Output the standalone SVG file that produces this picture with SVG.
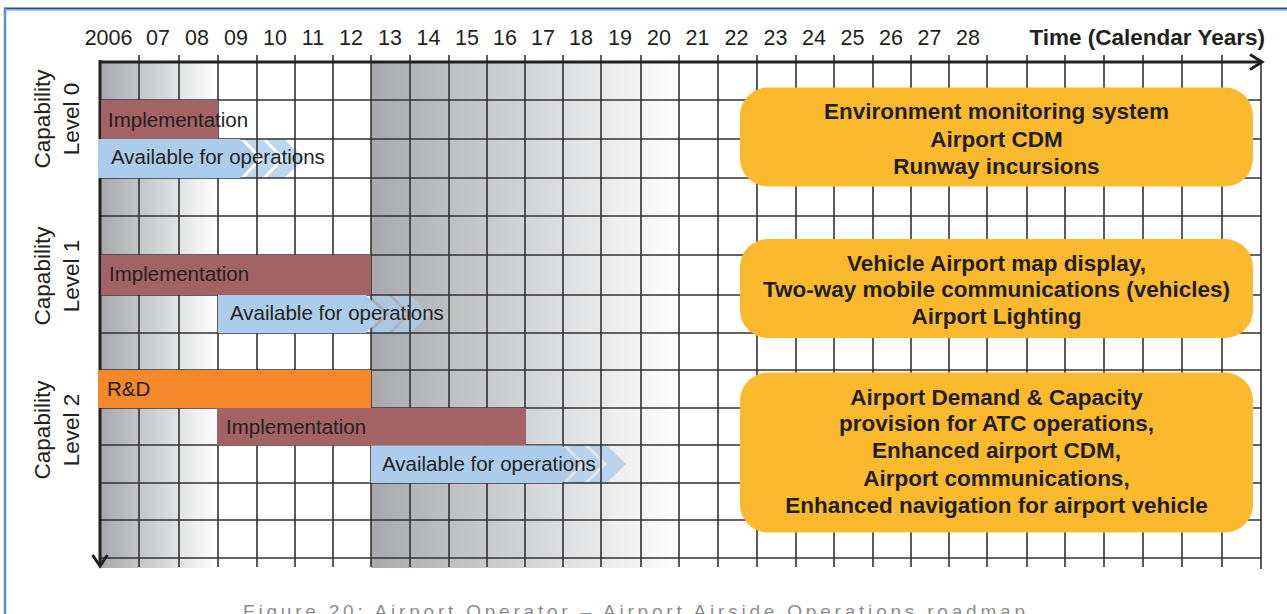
<svg xmlns="http://www.w3.org/2000/svg" width="1287" height="614" viewBox="0 0 1287 614">
<defs>
<linearGradient id="g1" x1="100" y1="0" x2="218" y2="0" gradientUnits="userSpaceOnUse">
<stop offset="0" stop-color="#a6a8ab"/><stop offset="1" stop-color="#ffffff"/>
</linearGradient>
<linearGradient id="g2" x1="371" y1="0" x2="680" y2="0" gradientUnits="userSpaceOnUse">
<stop offset="0" stop-color="#a7a9ac"/><stop offset="1" stop-color="#ffffff"/>
</linearGradient>
<style>
.yr{font-family:"Liberation Sans",Arial,sans-serif;font-size:21.5px;fill:#231f20;text-anchor:middle}
.lab{font-family:"Liberation Sans",Arial,sans-serif;font-size:20.5px;fill:#231f20}
.cap{font-family:"Liberation Sans",Arial,sans-serif;font-size:22.5px;fill:#231f20;text-anchor:middle}
.bx{font-family:"Liberation Sans",Arial,sans-serif;font-size:22.5px;font-weight:bold;fill:#231f20;text-anchor:middle}
.grid line{stroke:#333132;stroke-width:1.6}
.axis{stroke:#231f20;stroke-width:3;fill:none}
.impl{fill:#a36264}
.avail{fill:#abcdeb}
.chev{fill:#abcdeb;fill-opacity:0.8}
.box{fill:#fbb92e}
</style>
</defs>
<rect width="1287" height="614" fill="#ffffff"/>
<!-- frame -->
<line x1="4" y1="8.5" x2="1287" y2="8.5" stroke="#1b4f9c" stroke-width="1.8"/>
<line x1="6" y1="10.5" x2="1287" y2="10.5" stroke="#b3cbe9" stroke-width="1"/>
<line x1="5" y1="8" x2="5" y2="614" stroke="#5f8fcb" stroke-width="2.5"/>

<!-- background gradient bands -->
<rect x="100" y="62" width="118" height="506" fill="url(#g1)"/>
<rect x="371" y="62" width="309" height="506" fill="url(#g2)"/>

<!-- chevrons (under grid) -->
<g id="chevrons">
<polygon class="chev" points="244,139 262,139 281,158.5 262,178 244,178 263,158.5"/>
<polygon class="chev" points="266,139 284,139 304,158.5 284,178 266,178 285,158.5"/>
<polygon class="chev" points="370,295 388,295 407,314 388,333 370,333 389,314"/>
<polygon class="chev" points="392,295 410,295 430,314 410,333 392,333 411,314"/>
<polygon class="chev" points="566,445 584,445 603,464 584,483 566,483 585,464"/>
<polygon class="chev" points="588,445 606,445 626,464 606,483 588,483 607,464"/>
</g>

<!-- grid -->
<g id="connectors">
<g class="grid">
<line x1="100" y1="100" x2="1261" y2="100"/>
<line x1="100" y1="139" x2="1261" y2="139"/>
<line x1="100" y1="178" x2="1261" y2="178"/>
<line x1="100" y1="216" x2="1261" y2="216"/>
<line x1="100" y1="255" x2="1261" y2="255"/>
<line x1="100" y1="295" x2="1261" y2="295"/>
<line x1="100" y1="333" x2="1261" y2="333"/>
<line x1="100" y1="370" x2="1261" y2="370"/>
<line x1="100" y1="408" x2="1261" y2="408"/>
<line x1="100" y1="445" x2="1261" y2="445"/>
<line x1="100" y1="483" x2="1261" y2="483"/>
<line x1="100" y1="520" x2="1261" y2="520"/>
<line x1="100" y1="558" x2="1261" y2="558"/>
<line x1="139" y1="55" x2="139" y2="567"/>
<line x1="179" y1="55" x2="179" y2="567"/>
<line x1="218" y1="55" x2="218" y2="567"/>
<line x1="257" y1="55" x2="257" y2="567"/>
<line x1="295" y1="55" x2="295" y2="567"/>
<line x1="333" y1="55" x2="333" y2="567"/>
<line x1="371" y1="55" x2="371" y2="567"/>
<line x1="410" y1="55" x2="410" y2="567"/>
<line x1="449" y1="55" x2="449" y2="567"/>
<line x1="487" y1="55" x2="487" y2="567"/>
<line x1="525" y1="55" x2="525" y2="567"/>
<line x1="563" y1="55" x2="563" y2="567"/>
<line x1="601" y1="55" x2="601" y2="567"/>
<line x1="641" y1="55" x2="641" y2="567"/>
<line x1="679" y1="55" x2="679" y2="567"/>
<line x1="718" y1="55" x2="718" y2="567"/>
<line x1="757" y1="55" x2="757" y2="567"/>
<line x1="796" y1="55" x2="796" y2="567"/>
<line x1="834" y1="55" x2="834" y2="567"/>
<line x1="873" y1="55" x2="873" y2="567"/>
<line x1="911" y1="55" x2="911" y2="567"/>
<line x1="949" y1="55" x2="949" y2="567"/>
<line x1="987" y1="55" x2="987" y2="567"/>
<line x1="1027" y1="55" x2="1027" y2="567"/>
<line x1="1065" y1="55" x2="1065" y2="567"/>
<line x1="1104" y1="55" x2="1104" y2="567"/>
<line x1="1143" y1="55" x2="1143" y2="567"/>
<line x1="1182" y1="55" x2="1182" y2="567"/>
<line x1="1222" y1="55" x2="1222" y2="567"/>
<line x1="1261" y1="62" x2="1261" y2="569"/>
</g>
<!-- axes -->
<line class="axis" x1="100" y1="62" x2="1262" y2="62"/>
<polyline class="axis" points="1250,54.5 1262,62 1250,69.5"/>
<line class="axis" x1="100" y1="60" x2="100" y2="566"/>
<polyline class="axis" points="92.5,555 100,566 107.5,555"/>
</g>

<!-- year labels -->
<g id="years">
<text class="yr" x="132.5" y="45" style="text-anchor:end">2006</text>
<text class="yr" x="158" y="45">07</text>
<text class="yr" x="197" y="45">08</text>
<text class="yr" x="236" y="45">09</text>
<text class="yr" x="275" y="45">10</text>
<text class="yr" x="313" y="45">11</text>
<text class="yr" x="351" y="45">12</text>
<text class="yr" x="390" y="45">13</text>
<text class="yr" x="428.5" y="45">14</text>
<text class="yr" x="467" y="45">15</text>
<text class="yr" x="505" y="45">16</text>
<text class="yr" x="543" y="45">17</text>
<text class="yr" x="581" y="45">18</text>
<text class="yr" x="620" y="45">19</text>
<text class="yr" x="659" y="45">20</text>
<text class="yr" x="697.5" y="45">21</text>
<text class="yr" x="736.5" y="45">22</text>
<text class="yr" x="775.5" y="45">23</text>
<text class="yr" x="814" y="45">24</text>
<text class="yr" x="852.5" y="45">25</text>
<text class="yr" x="891" y="45">26</text>
<text class="yr" x="929.5" y="45">27</text>
<text class="yr" x="968" y="45">28</text>
<text class="yr" x="1265" y="45" style="text-anchor:end;font-weight:bold;font-size:22.5px">Time (Calendar Years)</text>
</g>

<!-- capability level labels -->
<g id="level0-label">
<text class="cap" transform="translate(50,119) rotate(-90)">Capability</text>
<text class="cap" transform="translate(79,119) rotate(-90)">Level 0</text>
</g>
<g id="level1-label">
<text class="cap" transform="translate(50,276) rotate(-90)">Capability</text>
<text class="cap" transform="translate(79,276) rotate(-90)">Level 1</text>
</g>
<g id="level2-label">
<text class="cap" transform="translate(50,430) rotate(-90)">Capability</text>
<text class="cap" transform="translate(79,430) rotate(-90)">Level 2</text>
</g>

<!-- Level 0 bars -->
<g id="l0-impl">
<rect class="impl" x="101" y="100" width="117" height="39"/>
<text class="lab" x="108" y="127">Implementation</text>
</g>
<g id="l0-avail">
<polygon class="avail" points="98,139 240,139 259,158.5 240,178 98,178"/>
<text class="lab" x="111" y="164">Available for operations</text>
</g>

<!-- Level 1 bars -->
<g id="l1-impl">
<rect class="impl" x="101" y="255" width="270" height="40"/>
<text class="lab" x="109" y="281">Implementation</text>
</g>
<g id="l1-avail">
<polygon class="avail" points="218,295 366,295 385,314 366,333 218,333"/>
<text class="lab" x="230" y="320">Available for operations</text>
</g>

<!-- Level 2 bars -->
<g id="l2-rd">
<rect x="98" y="370" width="273" height="38" fill="#f5882a"/>
<text class="lab" x="107" y="396">R&amp;D</text>
</g>
<g id="l2-impl">
<rect class="impl" x="217" y="408" width="309" height="37.5"/>
<text class="lab" x="226" y="434">Implementation</text>
</g>
<g id="l2-avail">
<polygon class="avail" points="371,445.5 562,445.5 581,464 562,483 371,483"/>
<text class="lab" x="382" y="471">Available for operations</text>
</g>

<!-- right boxes -->
<g id="box0">
<rect class="box" x="740" y="87.5" width="513" height="99" rx="28"/>
<text class="bx" x="996.5" y="119">Environment monitoring system</text>
<text class="bx" x="996.5" y="146.5">Airport CDM</text>
<text class="bx" x="996.5" y="174">Runway incursions</text>
</g>
<g id="box1">
<rect class="box" x="740" y="239" width="513" height="99" rx="28"/>
<text class="bx" x="996.5" y="270.5">Vehicle Airport map display,</text>
<text class="bx" x="996.5" y="297">Two-way mobile communications (vehicles)</text>
<text class="bx" x="996.5" y="324">Airport Lighting</text>
</g>
<g id="box2">
<rect class="box" x="740" y="372.5" width="513" height="160" rx="28"/>
<text class="bx" x="996.5" y="404.5">Airport Demand &amp; Capacity</text>
<text class="bx" x="996.5" y="431">provision for ATC operations,</text>
<text class="bx" x="996.5" y="458">Enhanced airport CDM,</text>
<text class="bx" x="996.5" y="485.5">Airport communications,</text>
<text class="bx" x="996.5" y="512.5">Enhanced navigation for airport vehicle</text>
</g>

<!-- caption -->
<text x="243" y="618" textLength="782" lengthAdjust="spacing" style="font-family:'Liberation Sans',Arial,sans-serif;font-size:19px;fill:#8c8c8c">Figure 20: Airport Operator – Airport Airside Operations roadmap</text>
</svg>
